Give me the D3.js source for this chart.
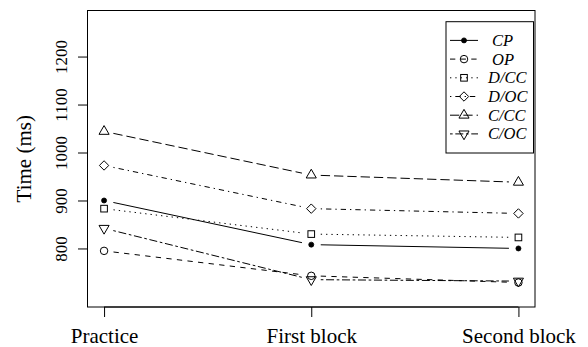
<!DOCTYPE html>
<html>
<head>
<meta charset="utf-8">
<script src="https://cdn.jsdelivr.net/npm/d3@7"></script>
<style>
  html, body { margin: 0; padding: 0; background: #fff; }
  svg { display: block; }
  text { font-family: "Liberation Serif", "Times New Roman", Times, serif; fill: #000; }
</style>
</head>
<body>
<svg id="chart" width="588" height="347"></svg>
<script>
// Session categories along the x axis
const blocks = ["Practice", "First block", "Second block"];

// Mean response time (ms) per condition
const cp   = [900, 808, 800];
const op   = [795, 743, 729];
const dcc  = [883, 830, 823];
const doc  = [973, 883, 873];
const ccc  = [1044, 953, 938];
const coc  = [842, 735, 732];

// Condition names as shown in the legend
const conditionNames = ["CP", "OP", "D/CC", "D/OC", "C/CC", "C/OC"];
const yTicks = [800, 900, 1000, 1100, 1200];
const yTitle = "Time (ms)";

// R-style line types and plotting symbols for each condition
const lineTypes = ["solid", "dashed", "dotted", "dotdash", "longdash", "twodash"];
const symbols   = ["dot", "circle", "square", "diamond", "triangle", "invtriangle"];

const seriesValues = [cp, op, dcc, doc, ccc, coc];

const u = 1.33; // dash unit
const dashes = {
  solid: null,
  dashed: [4 * u, 4 * u],
  dotted: [1 * u, 3 * u],
  dotdash: [1 * u, 3 * u, 4 * u, 3 * u],
  longdash: [7 * u, 3 * u],
  twodash: [2 * u, 2 * u, 6 * u, 2 * u]
};

const serif = "'Liberation Serif', 'Times New Roman', Times, serif";

const svg = d3.select("#chart");
const box = { left: 87.5, right: 535, top: 10.5, bottom: 307 };

// R pads each axis range by 4%
const x = d3.scaleLinear().domain([1 - 0.08, 3 + 0.08]).range([box.left, box.right]);
const y = d3.scaleLinear().domain([678, 1296]).range([box.bottom, box.top]);

const symSize = 10;
function drawSymbol(g, kind, cx, cy) {
  const s = symSize, R = 0.375 * s;
  if (kind === "dot") {
    g.append("circle").attr("cx", cx).attr("cy", cy).attr("r", R * 2 / 3)
      .attr("fill", "#000").attr("stroke", "#000").attr("stroke-width", 0.8);
  } else if (kind === "circle") {
    g.append("circle").attr("cx", cx).attr("cy", cy).attr("r", R)
      .attr("fill", "none").attr("stroke", "#000").attr("stroke-width", 1);
  } else if (kind === "square") {
    const h = R * 0.8862;
    g.append("rect").attr("x", cx - h).attr("y", cy - h).attr("width", 2 * h).attr("height", 2 * h)
      .attr("fill", "none").attr("stroke", "#000").attr("stroke-width", 1);
  } else if (kind === "diamond") {
    const h = R * 1.2533;
    g.append("path").attr("d", `M${cx},${cy - h}L${cx + h},${cy}L${cx},${cy + h}L${cx - h},${cy}Z`)
      .attr("fill", "none").attr("stroke", "#000").attr("stroke-width", 1);
  } else {
    const r = 1.5551 * R, yc = 0.7776 * R, xc = 1.3468 * R;
    const d = kind === "triangle"
      ? `M${cx},${cy - r}L${cx + xc},${cy + yc}L${cx - xc},${cy + yc}Z`
      : `M${cx},${cy + r}L${cx + xc},${cy - yc}L${cx - xc},${cy - yc}Z`;
    g.append("path").attr("d", d)
      .attr("fill", "none").attr("stroke", "#000").attr("stroke-width", 1);
  }
}

// Series: segments with a gap around every symbol (type = "b")
const gap = 9.5;
const plot = svg.append("g");
seriesValues.forEach((vals, si) => {
  const g = plot.append("g");
  const pts = vals.map((v, i) => [x(i + 1), y(v)]);
  for (let i = 0; i < pts.length - 1; i++) {
    const [x0, y0] = pts[i], [x1, y1] = pts[i + 1];
    const len = Math.hypot(x1 - x0, y1 - y0);
    const ux = (x1 - x0) / len, uy = (y1 - y0) / len;
    const seg = g.append("line")
      .attr("x1", x0 + ux * gap).attr("y1", y0 + uy * gap)
      .attr("x2", x1 - ux * gap).attr("y2", y1 - uy * gap)
      .attr("stroke", "#000").attr("stroke-width", 1);
    const dash = dashes[lineTypes[si]];
    if (dash) seg.attr("stroke-dasharray", dash.join(","));
  }
  pts.forEach(([px, py]) => drawSymbol(g, symbols[si], px, py));
});

// Plot frame
svg.append("rect")
  .attr("x", box.left).attr("y", box.top)
  .attr("width", box.right - box.left).attr("height", box.bottom - box.top)
  .attr("fill", "none").attr("stroke", "#000").attr("stroke-width", 1);

// Left axis with vertical tick labels
const yAxis = svg.append("g")
  .attr("transform", `translate(${box.left},0)`)
  .call(d3.axisLeft(y).tickValues(yTicks).tickSize(9.5).tickSizeOuter(0).tickFormat(d3.format("d")))
  .attr("font-family", serif).attr("font-size", 17);
yAxis.select(".domain").attr("d", `M0,${y(yTicks[0])}V${y(yTicks[yTicks.length - 1])}`);
yAxis.selectAll(".tick line").attr("stroke", "#000");
yAxis.selectAll(".tick text")
  .attr("transform", "rotate(-90)")
  .attr("x", 0).attr("y", -20.5).attr("dy", null)
  .attr("text-anchor", "middle")
  .attr("fill", "#000");

// Bottom axis with the session names
const xAxis = svg.append("g")
  .attr("transform", `translate(0,${box.bottom})`)
  .call(d3.axisBottom(x).tickValues([1, 2, 3]).tickSize(10).tickSizeOuter(0)
    .tickFormat((d) => blocks[d - 1]))
  .attr("font-family", serif).attr("font-size", 21);
xAxis.select(".domain").attr("d", `M${x(1)},0H${x(3)}`);
xAxis.selectAll(".tick line").attr("stroke", "#000");
xAxis.selectAll(".tick text")
  .attr("y", 36).attr("dy", null)
  .attr("fill", "#000");

// Axis title
svg.append("text")
  .attr("transform", `translate(31,${(box.top + box.bottom) / 2}) rotate(-90)`)
  .attr("text-anchor", "middle")
  .style("font-size", "21px")
  .text(yTitle);

// Legend
const leg = { left: 446, right: 533.5, top: 21.7, bottom: 153 };
const legend = svg.append("g");
legend.append("rect")
  .attr("x", leg.left).attr("y", leg.top)
  .attr("width", leg.right - leg.left).attr("height", leg.bottom - leg.top)
  .attr("fill", "#fff").attr("stroke", "#000").attr("stroke-width", 1);
const rowStep = 18.7;
conditionNames.forEach((name, i) => {
  const cy = leg.top + rowStep * (i + 1);
  const ln = legend.append("line")
    .attr("x1", 450).attr("x2", 478).attr("y1", cy).attr("y2", cy)
    .attr("stroke", "#000").attr("stroke-width", 1);
  const dash = dashes[lineTypes[i]];
  if (dash) ln.attr("stroke-dasharray", dash.join(","));
  drawSymbol(legend, symbols[i], 464, cy);
  legend.append("text")
    .attr("x", name.length <= 2 ? 492 : 488)
    .attr("y", cy).attr("dy", "0.33em")
    .style("font-style", "italic")
    .style("font-size", "16.5px")
    .text(name);
});
</script>
</body>
</html>
